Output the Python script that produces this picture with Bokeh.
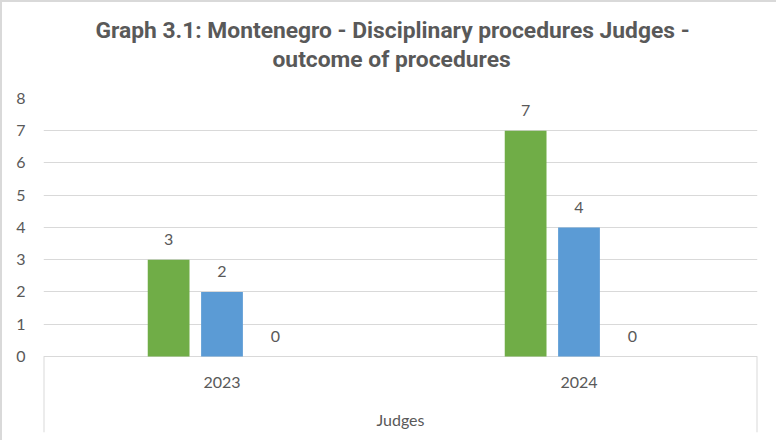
from bokeh.plotting import figure
from bokeh.models import Range1d, FixedTicker, ColumnDataSource, Title
from bokeh.core.properties import value
from bokeh.embed import file_html
from bokeh.resources import INLINE

# ---- data ----
title_lines = ["Graph 3.1: Montenegro - Disciplinary procedures Judges -", "outcome of procedures"]
group_label = "Judges"
years = ["2023", "2024"]
series_green = [3, 7]
series_blue = [2, 4]
series_grey = [0, 0]
y_ticks = [0, 1, 2, 3, 4, 5, 6, 7, 8]

colors = ["#70AD47", "#5B9BD5", "#A5A5A5"]
all_series = [series_green, series_blue, series_grey]
offsets = [-0.1495, 0.0, 0.1495]
bar_w = 0.117

TXT = "#595959"
FONT = "Lato"
Y_BOTTOM = -2.36

p = figure(width=776, height=440, output_backend="svg", toolbar_location=None,
           x_range=Range1d(0, len(years)), y_range=Range1d(Y_BOTTOM, 8),
           min_border_left=41, min_border_right=21, min_border_top=96, min_border_bottom=10,
           title=title_lines[0])
p.styles = {"border-top": "2px solid #D9D9D9", "border-left": "2px solid #D9D9D9"}

def style_title(t, offset):
    t.text_font = "Roboto"
    t.text_font_style = "bold"
    t.text_font_size = "22.8px"
    t.text_color = TXT
    t.align = "left"
    t.standoff = 0
    t.offset = offset

# spacer between the title block and the plot frame (nearest the frame)
spacer = Title(text=" ", text_font_size="1px", standoff=23)
p.add_layout(spacer, "above")

style_title(p.title, 52)
t2 = Title(text=title_lines[1])
style_title(t2, 229)
p.add_layout(t2, "above")

p.outline_line_color = None
p.background_fill_color = "white"
p.border_fill_color = "white"

p.xaxis.visible = False
p.xgrid.visible = False
p.yaxis.ticker = FixedTicker(ticks=y_ticks)
p.ygrid.ticker = FixedTicker(ticks=y_ticks)
p.ygrid.grid_line_color = "#D9D9D9"
p.ygrid.grid_line_width = 1
p.yaxis.axis_line_color = None
p.yaxis.major_tick_line_color = None
p.yaxis.minor_tick_line_color = None
p.yaxis.major_tick_in = 0
p.yaxis.major_tick_out = 0
p.yaxis.major_label_standoff = 18
p.yaxis.major_label_text_font = FONT
p.yaxis.major_label_text_font_size = "16px"
p.yaxis.major_label_text_color = TXT

centers = [i + 0.5 for i in range(len(years))]

for vals, col, off in zip(all_series, colors, offsets):
    xs = [c + off for c in centers]
    src = ColumnDataSource(dict(x=xs, top=vals, lab=[str(v) for v in vals]))
    p.vbar(x="x", top="top", bottom=0, width=bar_w, source=src,
           fill_color=col, line_color=None)
    p.text(x="x", y="top", text="lab", source=src, y_offset=-20,
           text_align="center", text_baseline="middle",
           text_font=value(FONT), text_font_size="16px", text_color=TXT)

# category labels and group label
cat_src = ColumnDataSource(dict(x=centers, y=[0] * len(years), t=years))
p.text(x="x", y="y", text="t", source=cat_src, y_offset=26,
       text_align="center", text_baseline="middle",
       text_font=value(FONT), text_font_size="16px", text_color=TXT)
p.text(x=[len(years) / 2], y=[0], text=[group_label], y_offset=63,
       text_align="center", text_baseline="middle",
       text_font=value(FONT), text_font_size="16px", text_color=TXT)

# category axis box edges
p.segment(x0=[0, len(years)], y0=[0, 0], x1=[0, len(years)], y1=[Y_BOTTOM, Y_BOTTOM],
          line_color="#D9D9D9", line_width=2)

open("out.html", "w").write(file_html(p, INLINE))
